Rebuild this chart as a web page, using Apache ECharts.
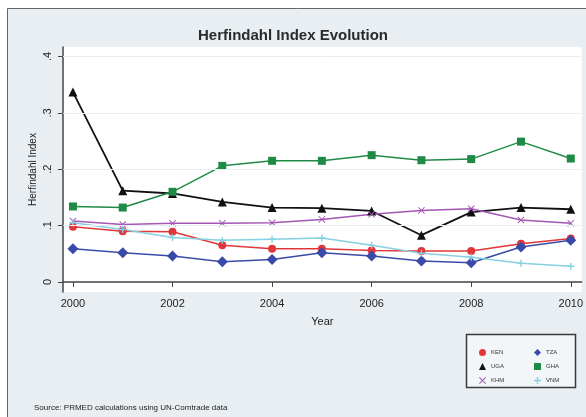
<!DOCTYPE html>
<html>
<head>
<meta charset="utf-8">
<script src="https://cdn.jsdelivr.net/npm/echarts@6/dist/echarts.min.js"></script>
<style>
  html, body { margin: 0; padding: 0; background: #fff; }
  #main { width: 586px; height: 417px; }
</style>
</head>
<body>
<div id="main"></div>
<script>
// data
var years = [2000, 2001, 2002, 2003, 2004, 2005, 2006, 2007, 2008, 2009, 2010];
var KEN = [0.098, 0.090, 0.089, 0.065, 0.059, 0.059, 0.056, 0.055, 0.055, 0.068, 0.077];
var TZA = [0.059, 0.052, 0.046, 0.036, 0.040, 0.052, 0.046, 0.037, 0.034, 0.062, 0.074];
var UGA = [0.337, 0.162, 0.157, 0.142, 0.132, 0.131, 0.126, 0.083, 0.124, 0.132, 0.129];
var GHA = [0.134, 0.132, 0.160, 0.206, 0.215, 0.215, 0.225, 0.216, 0.218, 0.249, 0.219];
var KHM = [0.108, 0.102, 0.104, 0.104, 0.105, 0.111, 0.120, 0.127, 0.130, 0.110, 0.104];
var VNM = [0.105, 0.093, 0.079, 0.074, 0.076, 0.078, 0.065, 0.051, 0.044, 0.033, 0.028];
var xTicks = [2000, 2002, 2004, 2006, 2008, 2010];
var yTicks = [0, 0.1, 0.2, 0.3, 0.4];

var xMark = 'path://M0,1L1,0L5,4L9,0L10,1L6,5L10,9L9,10L5,6L1,10L0,9L4,5Z';
var plusMark = 'path://M4,0L6,0L6,4L10,4L10,6L6,6L6,10L4,10L4,6L0,6L0,4L4,4Z';

function pairs(vals) {
  return vals.map(function (v, i) { return [years[i], v]; });
}

function mkSeries(name, vals, color, symbol, size, width) {
  return {
    name: name,
    type: 'line',
    data: pairs(vals),
    symbol: symbol,
    symbolSize: size,
    showAllSymbol: true,
    lineStyle: { color: color, width: width || 1.5 },
    itemStyle: { color: color },
    emphasis: { disabled: true },
    animation: false
  };
}

var chart = echarts.init(document.getElementById('main'));

var series = [
  mkSeries('KEN', KEN, '#e2373a', 'circle', 8),
  mkSeries('TZA', TZA, '#3a4aa8', 'diamond', 11),
  mkSeries('UGA', UGA, '#111111', 'triangle', 9, 1.8),
  mkSeries('GHA', GHA, '#1f8a45', 'rect', 8),
  mkSeries('KHM', KHM, '#a457b5', xMark, 7),
  mkSeries('VNM', VNM, '#86d0e2', plusMark, 7)
];
// faint horizontal grid lines
series[0].markLine = {
  silent: true,
  symbol: 'none',
  label: { show: false },
  lineStyle: { color: '#e8eef1', width: 1, type: 'solid' },
  data: yTicks.slice(1).map(function (v) { return { yAxis: v }; })
};

var legendText = { fontSize: 6, color: '#333', fontFamily: 'Liberation Sans, Arial' };

chart.setOption({
  backgroundColor: '#e9eef2',
  textStyle: { fontFamily: 'Liberation Sans, Arial, sans-serif' },
  title: [{
    text: 'Herfindahl Index Evolution',
    left: 'center',
    top: 23,
    textStyle: { fontSize: 15, fontWeight: 'bold', color: '#2a2a2a' }
  }, {
    text: 'Source: PRMED calculations using UN-Comtrade data',
    left: 29,
    top: 399,
    textStyle: { fontSize: 8, fontWeight: 'normal', color: '#222' }
  }],
  graphic: [
    { type: 'rect', shape: { x: 0, y: 0, width: 586, height: 8 }, style: { fill: '#fff' } },
    { type: 'rect', shape: { x: 0, y: 0, width: 7, height: 417 }, style: { fill: '#fff' } },
    { type: 'polyline', shape: { points: [[7.5, 417], [7.5, 8.5], [586, 8.5]] },
      style: { stroke: '#666', lineWidth: 1, fill: null } },
    { type: 'rect', shape: { x: 466.5, y: 334.5, width: 109, height: 53 },
      style: { fill: '#f3f6f8', stroke: '#3a3a3a', lineWidth: 1.5 } }
  ],
  grid: {
    left: 63, right: 4, top: 47, bottom: 125,
    show: true, backgroundColor: '#ffffff', borderWidth: 0
  },
  legend: [{
    orient: 'vertical',
    left: 474, top: 344,
    itemWidth: 7, itemHeight: 7, itemGap: 7,
    textStyle: legendText,
    data: [{ name: 'KEN', icon: 'circle' }, { name: 'UGA', icon: 'triangle' }, { name: 'KHM', icon: xMark }]
  }, {
    orient: 'vertical',
    left: 529, top: 344,
    itemWidth: 7, itemHeight: 7, itemGap: 7,
    textStyle: legendText,
    data: [{ name: 'TZA', icon: 'diamond' }, { name: 'GHA', icon: 'rect' }, { name: 'VNM', icon: plusMark }]
  }],
  xAxis: {
    type: 'value',
    min: 1999.8,
    max: 2010.22,
    name: 'Year',
    nameLocation: 'middle',
    nameGap: 24,
    nameTextStyle: { fontSize: 11, color: '#222' },
    axisLine: { lineStyle: { color: '#444', width: 1.5 } },
    axisTick: { show: true, length: 5, customValues: xTicks, lineStyle: { color: '#444' } },
    axisLabel: { customValues: xTicks, fontSize: 11, color: '#222', margin: 6, formatter: function (v) { return String(v); } },
    splitLine: { show: false }
  },
  yAxis: {
    type: 'value',
    min: -0.0178,
    max: 0.4169,
    name: 'Herfindahl Index',
    nameLocation: 'middle',
    nameGap: 25,
    nameMoveOverlap: false,
    nameTextStyle: { fontSize: 10, color: '#222' },
    axisLine: { show: true, lineStyle: { color: '#444', width: 1.5 } },
    axisTick: { show: true, length: 5, customValues: yTicks, lineStyle: { color: '#444' } },
    axisLabel: {
      customValues: yTicks, rotate: 90, fontSize: 11, color: '#222', margin: 10,
      formatter: function (v) { return v === 0 ? '0' : String(+v.toFixed(1)).replace('0.', '.'); }
    },
    splitLine: { show: false }
  },
  series: series
});
</script>
</body>
</html>
